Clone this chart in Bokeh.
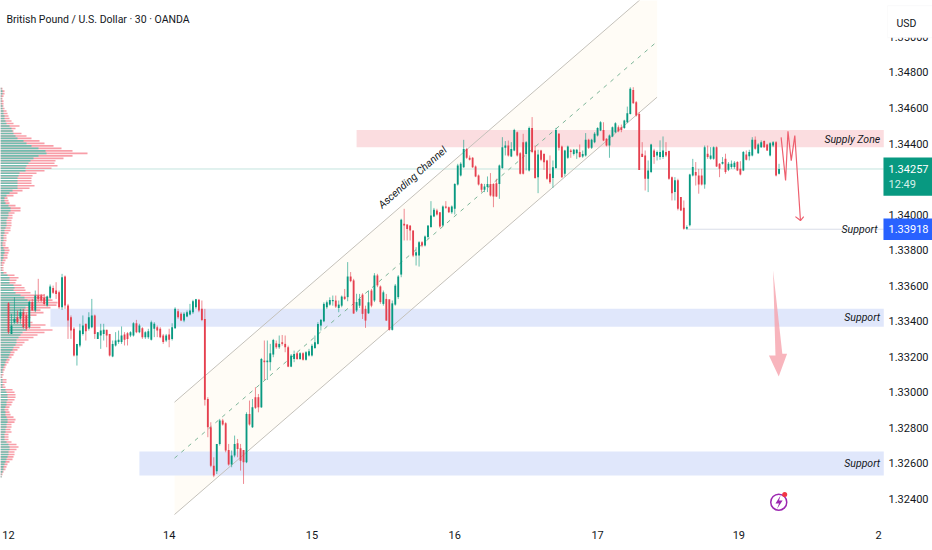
from bokeh.embed import file_html
from bokeh.resources import INLINE
from bokeh.plotting import figure
from bokeh.models import Range1d, Label, BoxAnnotation, FixedTicker, NumeralTickFormatter
import numpy as np

TITLE = "British Pound / U.S. Dollar · 30 · OANDA"
FONT = "Roboto"

# open, high, low, close per 30-minute bar, session by session
session_12 = [
(1.33502,1.33508,1.33329,1.33339),(1.33329,1.33442,1.33329,1.33376),(1.33395,1.33536,1.33386,1.33414),
(1.33423,1.33461,1.33386,1.33395),(1.33414,1.33470,1.33386,1.33451),(1.33451,1.33470,1.33358,1.33367),
(1.33433,1.33451,1.33348,1.33358),(1.33367,1.33517,1.33358,1.33508),(1.33508,1.33526,1.33461,1.33461),
(1.33461,1.33573,1.33451,1.33545),(1.33545,1.33639,1.33508,1.33526),(1.33545,1.33554,1.33508,1.33517),
(1.33532,1.33554,1.33489,1.33498),(1.33489,1.33545,1.33483,1.33539),(1.33532,1.33607,1.33526,1.33596),
(1.33588,1.33601,1.33554,1.33560),(1.33573,1.33620,1.33526,1.33554),(1.33564,1.33573,1.33470,1.33479),
(1.33479,1.33667,1.33464,1.33648),(1.33652,1.33658,1.33470,1.33489),(1.33489,1.33498,1.33301,1.33404),
(1.33423,1.33433,1.33301,1.33348),(1.33358,1.33367,1.33202,1.33208),(1.33208,1.33273,1.33151,1.33273),
(1.33264,1.33386,1.33254,1.33348),(1.33329,1.33433,1.33320,1.33376),(1.33386,1.33386,1.33292,1.33344),
(1.33358,1.33451,1.33348,1.33423),(1.33367,1.33526,1.33361,1.33433),(1.33433,1.33438,1.33301,1.33329),
(1.33301,1.33339,1.33301,1.33339),(1.33320,1.33386,1.33245,1.33348),(1.33329,1.33386,1.33292,1.33352),
(1.33352,1.33352,1.33254,1.33320),(1.33329,1.33329,1.33202,1.33208),(1.33202,1.33292,1.33198,1.33273),
(1.33264,1.33339,1.33258,1.33292),(1.33283,1.33348,1.33273,1.33296),(1.33283,1.33371,1.33273,1.33320),
(1.33326,1.33339,1.33264,1.33296),(1.33333,1.33339,1.33264,1.33301),(1.33320,1.33344,1.33311,1.33339),
(1.33320,1.33395,1.33314,1.33389),(1.33389,1.33408,1.33333,1.33339),(1.33339,1.33386,1.33333,1.33376),
(1.33361,1.33367,1.33301,1.33311),(1.33311,1.33344,1.33301,1.33339),(1.33311,1.33358,1.33301,1.33344),
(1.33296,1.33404,1.33292,1.33395),(1.33358,1.33395,1.33311,1.33386),(1.33367,1.33376,1.33311,1.33348),
(1.33358,1.33367,1.33305,1.33311),(1.33320,1.33329,1.33273,1.33283),(1.33292,1.33329,1.33283,1.33320),
(1.33326,1.33358,1.33254,1.33296),(1.33301,1.33389,1.33292,1.33367),(1.33361,1.33479,1.33358,1.33470),
(1.33457,1.33470,1.33414,1.33423),(1.33442,1.33451,1.33401,1.33404),(1.33404,1.33451,1.33395,1.33442),
(1.33427,1.33461,1.33423,1.33451),(1.33438,1.33498,1.33433,1.33461),(1.33451,1.33521,1.33442,1.33513),
(1.33479,1.33526,1.33470,1.33524),(1.33521,1.33526,1.33451,1.33461),(1.33470,1.33517,1.33401,1.33408),
]
session_14 = [
(1.33413,1.33470,1.32926,1.32958),(1.32963,1.32973,1.32748,1.32804),(1.32804,1.32832,1.32579,1.32588),
(1.32588,1.32635,1.32523,1.32532),(1.32557,1.32710,1.32541,1.32710),(1.32710,1.32851,1.32701,1.32842),
(1.32842,1.32851,1.32813,1.32819),(1.32826,1.32832,1.32663,1.32673),(1.32676,1.32710,1.32588,1.32594),
(1.32594,1.32673,1.32579,1.32645),(1.32645,1.32757,1.32635,1.32710),(1.32714,1.32738,1.32635,1.32682),
(1.32686,1.32710,1.32560,1.32616),(1.32676,1.32676,1.32485,1.32607),(1.32607,1.32888,1.32602,1.32879),
(1.32879,1.32954,1.32813,1.32819),(1.32804,1.32963,1.32800,1.32916),(1.32973,1.33029,1.32907,1.32913),
(1.32973,1.32991,1.32888,1.32916),(1.32916,1.33194,1.32913,1.33188),(1.33179,1.33292,1.33070,1.33170),
(1.33170,1.33292,1.33070,1.33179),(1.33170,1.33273,1.33123,1.33220),(1.33213,1.33301,1.33198,1.33295),
(1.33276,1.33292,1.33245,1.33254),(1.33254,1.33320,1.33245,1.33273),(1.33282,1.33323,1.33263,1.33273),
(1.33273,1.33320,1.33226,1.33254),(1.33254,1.33263,1.33142,1.33145),(1.33145,1.33216,1.33142,1.33207),
(1.33188,1.33235,1.33170,1.33216),(1.33220,1.33226,1.33183,1.33188),(1.33188,1.33226,1.33183,1.33220),
(1.33220,1.33226,1.33179,1.33183),(1.33183,1.33232,1.33179,1.33226),(1.33207,1.33245,1.33202,1.33232),
(1.33207,1.33273,1.33202,1.33263),(1.33250,1.33320,1.33245,1.33282),(1.33273,1.33395,1.33269,1.33385),
(1.33376,1.33413,1.33348,1.33408),(1.33400,1.33507,1.33395,1.33498),(1.33479,1.33517,1.33470,1.33507),
(1.33494,1.33535,1.33488,1.33520),(1.33513,1.33545,1.33488,1.33520),(1.33517,1.33545,1.33475,1.33483),
(1.33475,1.33517,1.33451,1.33494),(1.33488,1.33545,1.33479,1.33539),(1.33539,1.33582,1.33520,1.33526),
]
session_15 = [
(1.33536,1.33733,1.33513,1.33652),(1.33652,1.33677,1.33620,1.33626),(1.33630,1.33639,1.33442,1.33444),
(1.33461,1.33555,1.33452,1.33508),(1.33488,1.33554,1.33475,1.33526),(1.33550,1.33558,1.33413,1.33442),
(1.33470,1.33488,1.33363,1.33404),(1.33445,1.33573,1.33442,1.33507),(1.33573,1.33582,1.33479,1.33488),
(1.33517,1.33671,1.33508,1.33658),(1.33658,1.33667,1.33592,1.33602),(1.33596,1.33602,1.33498,1.33508),
(1.33498,1.33573,1.33488,1.33563),(1.33526,1.33554,1.33403,1.33404),(1.33524,1.33517,1.33348,1.33352),
(1.33352,1.33517,1.33348,1.33501),(1.33494,1.33610,1.33488,1.33601),(1.33536,1.33660,1.33525,1.33652),
(1.33663,1.33977,1.33648,1.33971),(1.33949,1.34033,1.33855,1.33939),(1.33945,1.33945,1.33855,1.33920),
(1.33939,1.33939,1.33855,1.33911),(1.33911,1.33911,1.33761,1.33770),(1.33770,1.33817,1.33714,1.33789),
(1.33770,1.33851,1.33708,1.33845),(1.33845,1.33851,1.33817,1.33827),(1.33827,1.33883,1.33821,1.33877),
(1.33874,1.33939,1.33864,1.33939),(1.33930,1.34076,1.33926,1.33995),(1.33990,1.34038,1.33986,1.34027),
(1.34024,1.34033,1.33995,1.34001),(1.34014,1.34014,1.33926,1.33933),(1.33939,1.34052,1.33933,1.34046),
(1.34046,1.34076,1.34033,1.34039),(1.34042,1.34046,1.34009,1.34014),(1.34014,1.34052,1.34005,1.34046),
(1.34033,1.34177,1.34001,1.34173),(1.34170,1.34286,1.34164,1.34277),(1.34220,1.34295,1.34215,1.34286),
(1.34267,1.34421,1.34263,1.34370),(1.34370,1.34376,1.34314,1.34320),(1.34320,1.34333,1.34305,1.34309),
(1.34320,1.34324,1.34263,1.34267),(1.34271,1.34277,1.34211,1.34215),(1.34220,1.34226,1.34164,1.34170),
(1.34173,1.34177,1.34127,1.34140),(1.34140,1.34173,1.34127,1.34159),(1.34155,1.34215,1.34127,1.34173),
]
session_16 = [
(1.34173,1.34234,1.34102,1.34108),(1.34173,1.34177,1.34042,1.34102),(1.34177,1.34202,1.34099,1.34102),
(1.34173,1.34282,1.34089,1.34277),(1.34263,1.34436,1.34258,1.34380),(1.34376,1.34414,1.34333,1.34389),
(1.34389,1.34417,1.34327,1.34333),(1.34327,1.34408,1.34324,1.34370),(1.34361,1.34483,1.34357,1.34477),
(1.34464,1.34468,1.34327,1.34333),(1.34346,1.34352,1.34226,1.34230),(1.34408,1.34455,1.34226,1.34230),
(1.34342,1.34414,1.34249,1.34408),(1.34249,1.34496,1.34243,1.34488),(1.34488,1.34549,1.34346,1.34352),
(1.34361,1.34389,1.34202,1.34207),(1.34211,1.34365,1.34121,1.34339),(1.34361,1.34365,1.34301,1.34309),
(1.34342,1.34346,1.34252,1.34295),(1.34305,1.34309,1.34196,1.34202),(1.34230,1.34333,1.34173,1.34183),
(1.34207,1.34305,1.34151,1.34267),(1.34263,1.34488,1.34258,1.34477),(1.34455,1.34459,1.34361,1.34376),
(1.34384,1.34389,1.34207,1.34211),(1.34230,1.34365,1.34215,1.34361),(1.34320,1.34389,1.34314,1.34384),
(1.34361,1.34370,1.34320,1.34352),(1.34342,1.34370,1.34333,1.34365),(1.34346,1.34370,1.34314,1.34365),
(1.34352,1.34395,1.34320,1.34324),(1.34327,1.34361,1.34320,1.34342),(1.34333,1.34459,1.34327,1.34421),
(1.34421,1.34427,1.34370,1.34376),(1.34376,1.34427,1.34370,1.34421),(1.34408,1.34464,1.34402,1.34455),
(1.34445,1.34492,1.34440,1.34488),(1.34474,1.34526,1.34470,1.34520),(1.34477,1.34520,1.34414,1.34417),
(1.34427,1.34430,1.34384,1.34389),(1.34389,1.34451,1.34320,1.34445),(1.34440,1.34496,1.34436,1.34492),
(1.34464,1.34520,1.34459,1.34515),(1.34492,1.34502,1.34464,1.34470),(1.34492,1.34507,1.34464,1.34477),
(1.34488,1.34534,1.34483,1.34530),(1.34520,1.34608,1.34515,1.34571),(1.34567,1.34717,1.34564,1.34708),
]
session_17 = [
(1.34702,1.34717,1.34624,1.34627),(1.34633,1.34639,1.34552,1.34558),(1.34567,1.34577,1.34252,1.34252),
(1.34343,1.34408,1.34324,1.34324),(1.34333,1.34361,1.34136,1.34202),(1.34202,1.34305,1.34127,1.34249),
(1.34240,1.34399,1.34234,1.34395),(1.34361,1.34371,1.34286,1.34324),(1.34333,1.34361,1.34305,1.34352),
(1.34324,1.34418,1.34309,1.34352),(1.34324,1.34440,1.34314,1.34361),(1.34352,1.34408,1.34324,1.34333),
(1.34358,1.34361,1.34196,1.34202),(1.34211,1.34215,1.34080,1.34121),(1.34127,1.34211,1.34080,1.34193),
(1.34193,1.34202,1.34024,1.34033),(1.34099,1.34099,1.34020,1.34024),(1.34039,1.34080,1.33915,1.33921),
(1.33921,1.33940,1.33915,1.33930),(1.33940,1.34230,1.33934,1.34226),(1.34221,1.34314,1.34215,1.34268),
(1.34240,1.34296,1.34164,1.34221),(1.34221,1.34258,1.34118,1.34170),(1.34221,1.34258,1.34164,1.34170),
(1.34170,1.34389,1.34146,1.34380),(1.34343,1.34389,1.34314,1.34324),(1.34314,1.34380,1.34309,1.34333),
(1.34314,1.34384,1.34309,1.34380),(1.34380,1.34384,1.34268,1.34271),(1.34286,1.34290,1.34211,1.34258),
(1.34286,1.34324,1.34282,1.34296),(1.34314,1.34343,1.34230,1.34240),(1.34253,1.34296,1.34245,1.34286),
(1.34268,1.34305,1.34258,1.34286),(1.34268,1.34301,1.34258,1.34292),(1.34296,1.34301,1.34245,1.34249),
(1.34258,1.34301,1.34221,1.34226),(1.34249,1.34358,1.34245,1.34352),(1.34339,1.34361,1.34305,1.34309),
(1.34328,1.34365,1.34305,1.34352),(1.34333,1.34436,1.34328,1.34421),(1.34421,1.34440,1.34365,1.34371),
(1.34346,1.34402,1.34342,1.34395),(1.34380,1.34418,1.34376,1.34408),(1.34414,1.34418,1.34376,1.34380),
(1.34395,1.34399,1.34358,1.34361),(1.34333,1.34408,1.34328,1.34402),(1.34389,1.34414,1.34380,1.34408),
(1.34408,1.34414,1.34215,1.34221),(1.34230,1.34286,1.34226,1.34257),
]

# volume profile: buyers and total per price row, from the top row down
vp_green = [1,2,2,1,1,1,1,2,2,3,3,4,4,5,6,9,11,12,13,15,17,23,26,31,38,45,46,38,33,30,28,26,25,25,19,18,17,17,17,17,17,12,9,6,4,4,5,8,10,10,8,8,7,6,6,6,5,
            4,4,3,3,3,2,2,3,4,4,3,3,2,1,1,1,1,3,7,9,9,9,13,14,13,15,20,24,27,30,29,25,24,24,22,18,18,19,25,24,26,22,20,18,16,16,15,13,12,10,9,8,6,5,4,3,2,2,1,1,
            2,2,2,2,5,6,7,7,7,6,6,5,4,5,5,6,7,7,6,6,5,5,4,4,4,6,8,9,9,8,8,7,6,5,4,3,3,2,1,1]
vp_total = [2,4,4,3,2,3,3,3,4,6,7,8,9,11,13,19,15,13,21,26,31,39,44,53,61,72,87,72,63,55,54,57,51,44,36,32,31,31,31,34,29,22,17,13,7,8,9,15,20,20,14,12,12,11,11,11,10,
            10,8,6,6,6,5,5,8,9,8,7,7,5,4,3,3,3,6,14,18,16,15,21,24,25,30,44,48,52,57,56,50,40,43,36,30,28,32,45,40,52,44,37,33,28,24,22,19,17,14,13,11,9,8,6,5,4,3,3,2,
            6,6,4,5,12,14,15,15,14,12,11,9,8,9,10,13,15,14,11,11,10,11,8,8,8,11,16,18,16,14,14,13,12,9,7,6,5,3,2,1]
vp_top_price = 1.34709
vp_row_step = 0.00014

day_ticks = [0, 54, 102, 150, 198, 245.5, 292.5]
day_labels = ["12", "14", "15", "16", "17", "19", "2"]
price_ticks = [1.35, 1.348, 1.346, 1.344, 1.34, 1.338, 1.336, 1.334, 1.332, 1.33, 1.328, 1.326, 1.324]
last_price = 1.34257
support_price = 1.33918

channel_start = 55.8
channel_end = 218.0
channel_upper = [1.32945, 1.35292]
channel_mid = [1.32630, 1.34974]
channel_lower = [1.32313, 1.34661]

supply_zone = (117.0, 294.2, 1.34379, 1.34477)
support_zones = [(14.1, 294.2, 1.33370, 1.33470), (44.0, 294.2, 1.32532, 1.32667)]

path_x = [259.7, 261.2, 262.0, 263.1, 264.3, 266.2]
path_y = [1.34435, 1.34192, 1.34469, 1.34304, 1.34445, 1.33967]
head_x = [264.5, 266.2, 267.3]
head_y = [1.33989, 1.33967, 1.33989]
big_x = [257.0, 260.1, 261.7, 258.9, 255.6, 257.8]
big_y = [1.33686, 1.33217, 1.33217, 1.33089, 1.33207, 1.33207]
bolt_x = [259.5, 257.8, 259.0, 258.3, 260.2, 259.0]
bolt_y = [1.32420, 1.32375, 1.32375, 1.32344, 1.32392, 1.32392]

rows = session_12 + session_14 + session_15 + session_16 + session_17
opens, highs, lows, closes = [np.array(c) for c in zip(*rows)]
idx = np.arange(len(rows))
up = closes >= opens

p = figure(frame_width=932, frame_height=522, output_backend="svg", toolbar_location=None,
           x_range=Range1d(-2.69, 310.58), y_range=Range1d(1.32268, 1.35205),
           y_axis_location="right", min_border_left=0, min_border_top=0,
           min_border_right=0, min_border_bottom=28,
           background_fill_color="white", border_fill_color="white", outline_line_color=None)
p.grid.visible = False
p.extra_x_ranges = {"vp": Range1d(0, 932)}

for ax in (p.xaxis[0], p.yaxis[0]):
    ax.axis_line_color = None
    ax.major_tick_line_color = None
    ax.minor_tick_line_color = None
    ax.major_tick_out = 0
    ax.minor_tick_out = 0
    ax.major_label_text_font = FONT
    ax.major_label_text_font_size = "11px"
    ax.major_label_text_color = "#131722"
p.yaxis[0].ticker = FixedTicker(ticks=price_ticks)
p.yaxis[0].formatter = NumeralTickFormatter(format="0.00000")
p.yaxis[0].major_label_standoff = -44
p.xaxis[0].ticker = FixedTicker(ticks=day_ticks)
p.xaxis[0].major_label_overrides = dict(zip(day_ticks, day_labels))
p.xaxis[0].major_label_standoff = 8

# channel fill
p.patch([channel_start, channel_end, channel_end, channel_start],
        [channel_upper[0], channel_upper[1], channel_lower[1], channel_lower[0]],
        fill_color="#fffcf5", fill_alpha=0.9, line_color=None)

# zones
p.quad(left=[supply_zone[0]], right=[supply_zone[1]], bottom=[supply_zone[2]], top=[supply_zone[3]],
       fill_color="#fbdde0", line_color=None)
p.quad(left=[z[0] for z in support_zones], right=[z[1] for z in support_zones],
       bottom=[z[2] for z in support_zones], top=[z[3] for z in support_zones],
       fill_color="#e0e7fb", line_color=None)

p.segment([-2.69], [last_price], [294.2], [last_price], line_color="#c3e4de", line_width=1)
p.segment([228.0], [support_price], [294.2], [support_price], line_color="#d9dde8", line_width=1)

# volume profile
vp_y = vp_top_price - np.arange(len(vp_total)) * vp_row_step
p.hbar(y=vp_y, left=0, right=vp_total, height=0.00009, x_range_name="vp",
       fill_color="#f78d99", fill_alpha=0.85, line_color=None)
p.hbar(y=vp_y, left=0, right=vp_green, height=0.00009, x_range_name="vp",
       fill_color="#62bfae", fill_alpha=0.9, line_color=None)

# channel lines
p.line([channel_start, channel_end], channel_upper, line_color="#c4c1ba", line_width=1)
p.line([channel_start, channel_end], channel_lower, line_color="#c4c1ba", line_width=1)
p.line([channel_start, channel_end], channel_mid, line_color="#7db598", line_width=1, line_dash="4 5")

# candles
GREEN, RED = "#089981", "#e5404f"
colors = [GREEN if u else RED for u in up]
p.segment(idx, highs, idx, lows, line_color=colors, line_width=1, line_alpha=0.6)
p.vbar(x=idx, width=0.62, bottom=np.minimum(opens, closes), top=np.maximum(opens, closes),
       fill_color=colors, line_color=None)

# drawn forecast arrows
p.patch(big_x, big_y, fill_color="#f6a3ac", fill_alpha=0.8, line_color=None)
p.line(path_x, path_y, line_color="#ee5f6e", line_width=1.2)
p.line(head_x, head_y, line_color="#ee5f6e", line_width=1.2)

# lightning badge
p.scatter([258.9], [1.32382], size=16, marker="circle", fill_color=None, line_color="#9c27b0", line_width=1.5)
p.patch(bolt_x, bolt_y, fill_color="#9c27b0", line_color=None)
p.scatter([260.9], [1.32425], size=5, marker="circle", fill_color="#f23645", line_color=None)

def lab(x, y, text, size, color="#131722", align="left", italic=False, angle=0.0):
    p.add_layout(Label(x=x, y=y, text=text, text_font=FONT, text_font_size=size, text_color=color,
                       text_align=align, text_baseline="middle",
                       text_font_style="italic" if italic else "normal",
                       angle=angle, angle_units="deg", level="overlay"))

lab(-0.7, 1.35099, TITLE, "10.5px")
lab(135.8, 1.34209, "Ascending Channel", "10.5px", align="center", italic=True, angle=41.6)
lab(293.0, 1.34423, "Supply Zone", "10.5px", align="right", italic=True)
lab(292.1, support_price, "Support", "10.5px", align="right", italic=True)
lab(293.0, 1.33421, "Support", "10.5px", align="right", italic=True)
lab(293.0, 1.32600, "Support", "10.5px", align="right", italic=True)

# price-scale labels drawn over the axis
for l, r, b, t, c, line in [(294.1, 310.58, 1.34107, 1.34321, "#089981", None),
                            (294.1, 310.58, 1.33858, 1.33978, "#2962ff", None),
                            (295.5, 310.58, 1.34996, 1.35176, "#ffffff", "#eef0f3")]:
    p.add_layout(BoxAnnotation(left=l, right=r, bottom=b, top=t, fill_color=c, fill_alpha=1.0,
                               line_color=line, level="annotation"))
lab(295.8, last_price, "1.34257", "11px", color="white")
lab(295.8, 1.34169, "12:49", "11px", color="#d5f0ea")
lab(295.8, support_price, "1.33918", "11px", color="white")
lab(301.8, 1.35076, "USD", "10.5px", align="center")

open("out.html", "w").write(file_html(p, INLINE))
